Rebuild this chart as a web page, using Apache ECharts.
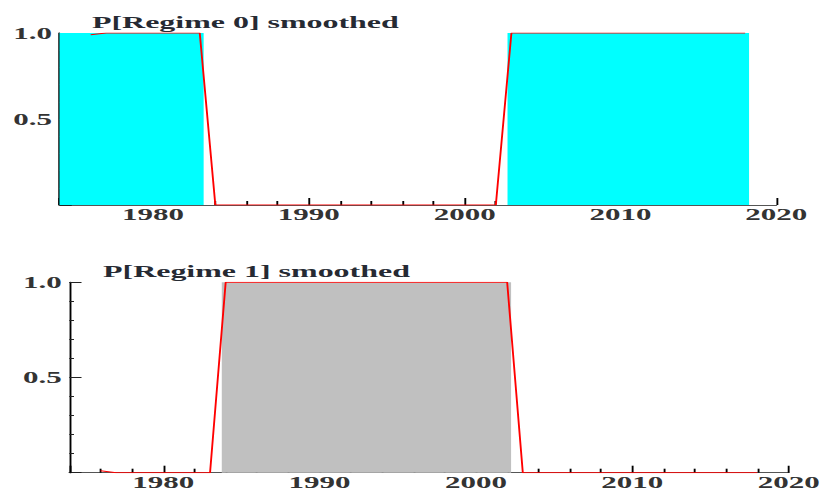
<!DOCTYPE html>
<html>
<head>
<meta charset="utf-8">
<script src="https://cdn.jsdelivr.net/npm/echarts@6/dist/echarts.min.js"></script>
<style>
html,body{margin:0;padding:0;background:#fff;overflow:hidden}
#c{width:439.36px;height:494px;transform:scaleX(1.88);transform-origin:0 0}
</style>
</head>
<body>
<div id="c"></div>
<script>
// ---- data ----
const years = [1976,1977,1978,1979,1980,1981,1982,1983,1984,1985,1986,1987,1988,1989,1990,1991,1992,1993,1994,1995,1996,1997,1998,1999,2000,2001,2002,2003,2004,2005,2006,2007,2008,2009,2010,2011,2012,2013,2014,2015,2016,2017,2018];
const regime0 = [0.99,1,1,1,1,1,1,1, 0,0,0,0,0,0,0,0,0,0,0,0,0,0,0,0,0,0,0, 1,1,1,1,1,1,1,1,1,1,1,1,1,1,1,1];
const regime1 = [0.01,0,0,0,0,0,0,0, 1,1,1,1,1,1,1,1,1,1,1,1,1,1,1,1,1,1,1, 0,0,0,0,0,0,0,0,0,0,0,0,0,0,0,0];
const regime0Spans = [[1974, 1983.25], [2002.75, 2018.25]];
const regime1Spans = [[1983.75, 2002.25]];
const titles = ['P[Regime 0] smoothed', 'P[Regime 1] smoothed'];
const xRange = [1974, 2020];
const yLabels = ['0.5', '1.0'];

const FONT = 'Liberation Serif';
const labelStyle = {fontFamily: FONT, fontWeight: 'bold', fontSize: 16.5, color: '#333'};

function xAxis(gi) {
  return {
    type: 'value', gridIndex: gi, min: xRange[0], max: xRange[1], splitNumber: 5,
    axisLine: {show: true, onZero: false, lineStyle: {color: '#555', width: 1}},
    axisTick: {show: true, inside: true, length: 7, lineStyle: {color: '#000', width: 1}},
    minorTick: {show: true, splitNumber: 5, length: 4, lineStyle: {color: '#000', width: 1}},
    axisLabel: Object.assign({margin: 1, formatter: v => (v % 10 === 0 ? String(v) : '')}, labelStyle),
    splitLine: {show: false}
  };
}
function yAxis(gi) {
  return {
    type: 'value', gridIndex: gi, min: 0, max: 1, interval: 0.5,
    axisLine: {show: true, lineStyle: {color: '#000', width: 1}},
    axisTick: {show: true, inside: true, length: 6.5, lineStyle: {color: '#222', width: 1}},
    minorTick: {show: true, splitNumber: 5, length: 2.5, lineStyle: {color: '#222', width: 1}},
    axisLabel: Object.assign({margin: 4, formatter: v => {const s = v.toFixed(1); return yLabels.indexOf(s) >= 0 ? s : '';}}, labelStyle),
    splitLine: {show: false}
  };
}
function shade(gi, spans, color) {
  return {
    type: 'line', xAxisIndex: gi, yAxisIndex: gi, data: [], z: 1, silent: true,
    markArea: {silent: true, itemStyle: {color: color, opacity: 1}, label: {show: false},
      data: spans.map(s => [{xAxis: s[0], yAxis: 0}, {xAxis: s[1], yAxis: 1}])}
  };
}
function line(gi, vals) {
  return {
    type: 'line', xAxisIndex: gi, yAxisIndex: gi, z: 3, symbol: 'none', showSymbol: false,
    lineStyle: {color: '#ff0000', width: 1}, data: years.map((y, i) => [y, vals[i]])
  };
}

const chart = echarts.init(document.getElementById('c'), null, {renderer: 'svg'});
chart.setOption({
  animation: false,
  backgroundColor: '#fff',
  title: [
    {text: titles[0], left: 48.9, top: 14, padding: 0, textStyle: {fontFamily: FONT, fontWeight: 'bold', fontSize: 17, color: '#262a33'}},
    {text: titles[1], left: 54.8, top: 262.5, padding: 0, textStyle: {fontFamily: FONT, fontWeight: 'bold', fontSize: 17, color: '#262a33'}}
  ],
  grid: [
    {left: 31.65, right: 26.06, top: 33, height: 172},
    {left: 36.86, right: 17.7, top: 282.3, height: 190.4}
  ],
  xAxis: [xAxis(0), xAxis(1)],
  yAxis: [yAxis(0), yAxis(1)],
  series: [
    shade(0, regime0Spans, '#00ffff'),
    line(0, regime0),
    shade(1, regime1Spans, '#c0c0c0'),
    line(1, regime1)
  ]
});
</script>
</body>
</html>
